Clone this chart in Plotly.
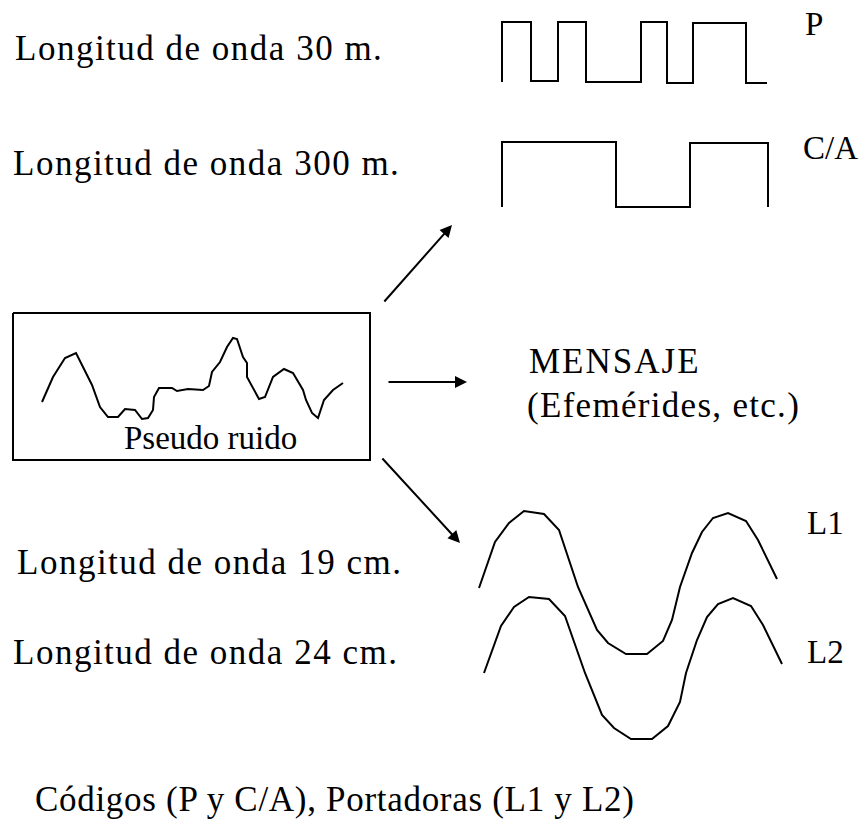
import plotly.graph_objects as go

# ---- waveform vertices (diagram coordinates, y grows downward) ----
p_code_x = [502, 502, 531, 531, 558, 558, 586, 586, 641, 641, 667, 667, 693, 693, 746, 746, 767]
p_code_y = [82, 22, 22, 81, 81, 22, 22, 82, 82, 22, 22, 83, 83, 23, 23, 83, 83]

ca_code_x = [502, 502, 616, 616, 690, 690, 768, 768]
ca_code_y = [207, 142, 142, 207, 207, 143, 143, 207]

noise_x = [42, 53, 65, 76, 83, 92, 100, 108, 118, 125, 135, 142, 148, 153, 154, 159, 172, 177,
           188, 203, 209, 212, 220, 227, 233, 237, 243, 247, 247, 253, 259, 265, 273, 284, 293,
           303, 306, 312, 318, 324, 333, 343]
noise_y = [402, 377, 358, 353, 367, 385, 407, 417, 417, 409, 410, 419, 418, 410, 397, 388, 388, 391,
           389, 390, 386, 372, 362, 347, 338, 339, 357, 363, 377, 388, 399, 397, 377, 369, 373,
           390, 400, 413, 418, 400, 390, 383]

l1_x = [479, 495, 509, 524, 544, 559, 578, 597, 608, 626, 647, 663, 672, 680, 692, 702, 713, 728, 746, 758, 777]
l1_y = [588, 542, 523, 511, 514, 530, 587, 630, 643, 654, 654, 641, 620, 587, 553, 532, 518, 513, 521, 540, 579]

l2_x = [484, 501, 514, 529, 549, 565, 585, 602, 614, 631, 652, 668, 680, 686, 697, 707, 718, 733, 751, 763, 782]
l2_y = [673, 626, 607, 597, 599, 616, 673, 715, 728, 739, 739, 726, 702, 673, 640, 617, 604, 598, 606, 625, 664]

box_x = [13, 370, 370, 13, 13]
box_y = [313, 313, 460, 460, 313]

# arrows: (tail_x, tail_y, head_x, head_y)
arrow_tail_x = [383, 387, 381]
arrow_tail_y = [303, 382, 457]
arrow_head_x = [452, 467, 460]
arrow_head_y = [225, 382, 543]

# ---- texts ----
left_texts = ["Longitud de onda 30 m.", "Longitud de onda 300 m.",
              "Longitud de onda 19 cm.", "Longitud de onda 24 cm."]
left_x = [13, 11, 15, 11]
left_y = [48, 163, 562, 652]

wave_labels = ["P", "C/A", "L1", "L2"]
wave_label_x = [803, 801, 805, 805]
wave_label_y = [24, 148, 523, 652]

FONT = "Liberation Serif, Times New Roman, serif"
LINE = dict(color="black", width=2)

# the page body has an 8px default margin; shift the view so diagram
# coordinates map 1:1 onto window pixels
OFF = 8
W, H = 868, 823


def spaced(t, px):
    return f'<span style="letter-spacing:{px}px">{t}</span>'


fig = go.Figure()
for xs, ys in [(p_code_x, p_code_y), (ca_code_x, ca_code_y), (noise_x, noise_y),
               (l1_x, l1_y), (l2_x, l2_y), (box_x, box_y)]:
    fig.add_trace(go.Scatter(x=xs, y=ys, mode="lines", line=LINE,
                             hoverinfo="skip", showlegend=False))

annotations = []
for tx, ty, hx, hy in zip(arrow_tail_x, arrow_tail_y, arrow_head_x, arrow_head_y):
    annotations.append(dict(x=hx, y=hy, ax=tx, ay=ty, xref="x", yref="y", axref="x", ayref="y",
                            text="", showarrow=True, arrowhead=2, arrowsize=1.2,
                            arrowwidth=2, arrowcolor="black"))

for t, x, y in zip(left_texts, left_x, left_y):
    annotations.append(dict(x=x, y=y, xref="x", yref="y", text=spaced(t, 1.5), showarrow=False,
                            xanchor="left", yanchor="middle",
                            font=dict(family=FONT, size=35, color="black")))

for t, x, y in zip(wave_labels, wave_label_x, wave_label_y):
    annotations.append(dict(x=x, y=y, xref="x", yref="y", text=t, showarrow=False,
                            xanchor="left", yanchor="middle",
                            font=dict(family=FONT, size=33, color="black")))

annotations.append(dict(x=210, y=438, xref="x", yref="y", text="Pseudo ruido", showarrow=False,
                        xanchor="center", yanchor="middle",
                        font=dict(family=FONT, size=33, color="black")))
annotations.append(dict(x=527, y=361, xref="x", yref="y", text=spaced("MENSAJE", 2),
                        showarrow=False, xanchor="left", yanchor="middle",
                        font=dict(family=FONT, size=35, color="black")))
annotations.append(dict(x=525, y=405, xref="x", yref="y", text=spaced("(Efemérides, etc.)", 1.3),
                        showarrow=False, xanchor="left", yanchor="middle",
                        font=dict(family=FONT, size=35, color="black")))
annotations.append(dict(x=33, y=799, xref="x", yref="y",
                        text=spaced("Códigos (P y C/A), Portadoras (L1 y L2)", 0.7),
                        showarrow=False, xanchor="left", yanchor="middle",
                        font=dict(family=FONT, size=35, color="black")))

fig.update_layout(
    width=W - OFF, height=H - OFF, autosize=False,
    margin=dict(l=0, r=0, t=0, b=0),
    paper_bgcolor="white", plot_bgcolor="white",
    xaxis=dict(range=[OFF, W], visible=False, fixedrange=True),
    yaxis=dict(range=[H, OFF], visible=False, fixedrange=True),
    annotations=annotations,
)

fig.write_html("out.html")
